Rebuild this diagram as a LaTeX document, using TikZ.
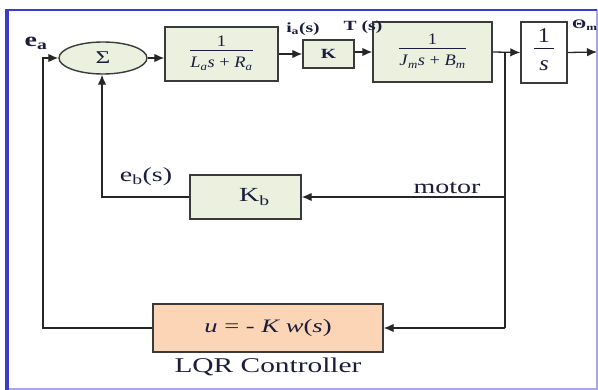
\documentclass[tikz,border=0pt]{standalone}
\usepackage{fontspec}
\setmainfont{Liberation Serif}[FakeStretch=1.4]
\newfontfamily\fracfont{Liberation Serif}[FakeStretch=1.15]
\usetikzlibrary{arrows.meta,shapes.geometric}
\definecolor{boxgreen}{HTML}{EBF1DE}
\definecolor{peach}{HTML}{FBD5B5}
\definecolor{frameblue}{HTML}{3C3CC8}
\definecolor{framelight}{HTML}{A8A8E6}
\definecolor{linegray}{HTML}{3A3A3A}
\definecolor{txt}{HTML}{1C1C3C}
\newcommand{\fsz}[1]{\fontsize{#1}{#1}\selectfont}
\newcommand{\blkfrac}[2]{\begin{tabular}{@{}c@{}}#1\\[-1pt]\hline\rule{0pt}{1.05em}#2\end{tabular}}
\begin{document}
\begin{tikzpicture}[x=1pt,y=-1pt,
  blk/.style={draw=linegray,line width=1.4pt,fill=boxgreen,inner sep=0pt,text=txt},
  conn/.style={draw=black!85,line width=1.3pt},
  arr/.style={conn,-{Latex[length=10pt,width=8.5pt]}},
  lbl/.style={text=txt,inner sep=0pt}]
\useasboundingbox (0,0) rectangle (598,390);
\fill[white] (0,0) rectangle (598,390);
% frame
\draw[framelight,line width=1.5pt] (7,389) -- (597,389) -- (597,10);
\draw[frameblue,line width=2.5pt] (597,10) -- (7,10);
\draw[frameblue,line width=4pt] (7,9) -- (7,390);
% blocks
\node[blk,ellipse,minimum width=88pt,minimum height=32pt] (sum) at (103,58) {\fsz{18}Σ};
\node[blk,minimum width=113pt,minimum height=54pt] (b1) at (221.5,54)
  {\fracfont\fsz{16}\arrayrulewidth=0.9pt\blkfrac{1}{\textit{L}\textsubscript{\textit{a}}\textit{s} + \textit{R}\textsubscript{\textit{a}}}};
\node[blk,minimum width=51pt,minimum height=28pt] (kbox) at (328.5,54) {\fsz{14}\textbf{K}};
\node[blk,minimum width=119pt,minimum height=60pt] (b2) at (432.5,52)
  {\fracfont\fsz{16}\arrayrulewidth=0.9pt\blkfrac{1}{\textit{J}\textsubscript{\textit{m}}\textit{s} + \textit{B}\textsubscript{\textit{m}}}};
\node[blk,fill=white,minimum width=46pt,minimum height=61pt] (b3) at (544,52.5)
  {\fracfont\fsz{21}\arrayrulewidth=1pt\blkfrac{\,1\,}{\textit{s}}};
\node[blk,minimum width=111pt,minimum height=44pt] (kb) at (245.5,197)
  {\hspace{18pt}\fsz{20}K\textsubscript{b}};
\node[blk,fill=peach,minimum width=230pt,minimum height=48pt] (lqr) at (268,328)
  {\fsz{19}\textit{u} = - \textit{K w}(\textit{s})};
% coordinates
\coordinate (br) at (505,52);
\coordinate (rk) at (505,197);
\coordinate (rb) at (505,328);
\coordinate (out) at (597,52);
\coordinate (lb) at (43,328);
\coordinate (lt) at (43,58);
\coordinate (kl) at (102,197);
% connectors
\draw[arr] (sum.east) -- (sum.east -| b1.west);
\draw[arr] (b1.east |- kbox.west) -- (kbox.west);
\draw[arr] (kbox.east |- b2.west) -- (b2.west);
\draw[arr] (b2.east) -- (b3.west);
\draw[arr] (b3.east) -- (out);
\draw[conn] (br) -- (rb);
\draw[arr] (rb) -- (lqr.east);
\draw[arr] (rk) -- (kb.east);
\draw[arr] (kb.west) -- (kl) -- (kl |- sum.south);
\draw[arr] (lqr.west) -- (lb) -- (lt) -- (sum.west);
% labels
\node[lbl] (ea) at (36,43) {\fsz{20}\textbf{e\textsubscript{a}}};
\node[lbl] (ia) at (303,29) {\fsz{14}\textbf{i\textsubscript{a}(s)}};
\node[lbl] (ts) at (363,27) {\fsz{14}\textbf{T (s)}};
\node[lbl] (eb) at (146,177) {\fsz{20}e\textsubscript{b}(s)};
\node[lbl] (mot) at (447,188) {\fsz{20}motor};
\node[lbl,anchor=west] (th) at (572,25) {\fsz{13}\textbf{Θ\textsubscript{m}}};
\node[lbl] (lq) at (268,367) {\fsz{21}LQR Controller};
\end{tikzpicture}
\end{document}
